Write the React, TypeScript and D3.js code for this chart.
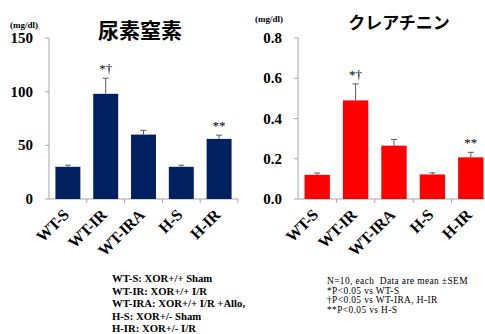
import React from "react";
import * as d3 from "d3";

const categories = ["WT-S", "WT-IR", "WT-IRA", "H-S", "H-IR"];
const bunValues = [30, 98, 60, 30, 56];
const bunErrors = [1.5, 14.5, 4, 1.5, 3.5];
const crValues = [0.12, 0.49, 0.265, 0.122, 0.207];
const crErrors = [0.009, 0.082, 0.031, 0.008, 0.025];
const bunTicks = [0, 50, 100, 150];
const crTicks = [0, 0.2, 0.4, 0.6, 0.8];
const bunMarks = ["", "*\u2020", "", "", "**"];
const crMarks = ["", "*\u2020", "", "", "**"];
const legendLeft = [
  "WT-S: XOR+/+ Sham",
  "WT-IR: XOR+/+ I/R",
  "WT-IRA: XOR+/+ I/R +Allo,",
  "H-S: XOR+/- Sham",
  "H-IR: XOR+/- I/R",
];
const legendRight = [
  "N=10, each  Data are mean \u00B1SEM",
  "*P<0.05 vs WT-S",
  "\u2020P<0.05 vs WT-IRA, H-IR",
  "**P<0.05 vs H-S",
];

const serif = "'Liberation Serif', 'Times New Roman', serif";
const cjk = "'Noto Sans CJK JP', sans-serif";

type PanelProps = {
  x0: number;
  x1: number;
  yTop: number;
  yBottom: number;
  max: number;
  ticks: number[];
  fmt: (v: number) => string;
  values: number[];
  errors: number[];
  marks: string[];
  color: string;
  title: string;
  titleX: number;
  titleY: number;
  titleSize: number;
  unitX: number;
  unitY: number;
  labelRight: number;
  markSize: number;
};

function Panel(p: PanelProps) {
  const x = d3.scaleBand<string>().domain(categories).range([p.x0, p.x1]).paddingInner(0.34).paddingOuter(0.17);
  const xb = d3.scaleBand<string>().domain(categories).range([p.x0, p.x1]);
  const y = d3.scaleLinear().domain([0, p.max]).range([p.yBottom, p.yTop]);
  const axisColor = "#a6a6a6";
  return (
    <g>
      <text x={p.titleX} y={p.titleY} fontFamily={cjk} fontWeight="bold" fontSize={p.titleSize} textAnchor="middle">
        {p.title}
      </text>
      <text x={p.unitX} y={p.unitY} fontFamily={serif} fontWeight="bold" fontSize={9}>
        (mg/dl)
      </text>
      <line x1={p.x0} x2={p.x0} y1={y(0)} y2={y(p.max)} stroke={axisColor} strokeWidth={1} />
      {p.ticks.map((t) => (
        <g key={t}>
          <line x1={p.x0 - 4} x2={p.x0} y1={y(t)} y2={y(t)} stroke={axisColor} />
          <text x={p.labelRight} y={y(t) + 5} textAnchor="end" fontFamily={serif} fontWeight="bold" fontSize={15}>
            {p.fmt(t)}
          </text>
        </g>
      ))}
      <line x1={p.x0} x2={p.x1} y1={y(0)} y2={y(0)} stroke={axisColor} />
      {categories.map((c) => (
        <line key={c} x1={(xb(c) as number) + xb.bandwidth()} x2={(xb(c) as number) + xb.bandwidth()} y1={y(0)} y2={y(0) + 4} stroke={axisColor} />
      ))}
      {categories.map((c, i) => {
        const bx = x(c) as number;
        const cx = bx + x.bandwidth() / 2;
        const top = y(p.values[i] + p.errors[i]);
        return (
          <g key={c}>
            <rect x={bx} y={y(p.values[i])} width={x.bandwidth()} height={y(0) - y(p.values[i])} fill={p.color} />
            <line x1={cx} x2={cx} y1={y(p.values[i])} y2={top} stroke="#595959" strokeWidth={1} />
            <line x1={cx - 3} x2={cx + 3} y1={top} y2={top} stroke="#595959" strokeWidth={1} />
            {p.marks[i] && (
              <text x={cx} y={top - 5} textAnchor="middle" fontFamily={serif} fontSize={p.markSize} fill="#000">
                {p.marks[i]}
              </text>
            )}
            <text
              transform={`translate(${cx + 2},${y(0) + 17}) rotate(-45)`}
              textAnchor="end"
              fontFamily={serif}
              fontWeight="bold"
              fontSize={16}
              letterSpacing={-0.3}
            >
              {c}
            </text>
          </g>
        );
      })}
    </g>
  );
}

export default function App() {
  return (
    <svg width={485} height={334} style={{ position: "absolute", left: 0, top: 0 }}>
      <rect width={485} height={334} fill="#fff" />
      <Panel
        x0={49}
        x1={238}
        yTop={38}
        yBottom={199}
        max={150}
        ticks={bunTicks}
        fmt={(v) => String(v)}
        values={bunValues}
        errors={bunErrors}
        marks={bunMarks}
        color="#002060"
        title="尿素窒素"
        titleX={140}
        titleY={38}
        titleSize={21}
        unitX={10}
        unitY={28}
        labelRight={33}
        markSize={13}
      />
      <Panel
        x0={298}
        x1={490}
        yTop={38}
        yBottom={199}
        max={0.8}
        ticks={crTicks}
        fmt={(v) => v.toFixed(1)}
        values={crValues}
        errors={crErrors}
        marks={crMarks}
        color="#ff0000"
        title="クレアチニン"
        titleX={399}
        titleY={29}
        titleSize={17}
        unitX={255}
        unitY={22}
        labelRight={282}
        markSize={13}
      />
      {legendLeft.map((t, i) => (
        <text key={t} x={112} y={282 + i * 12.6} fontFamily={serif} fontWeight="bold" fontSize={10.7}>
          {t}
        </text>
      ))}
      {legendRight.map((t, i) => (
        <text key={t} x={327} y={284 + i * 9.6} fontFamily={serif} fontSize={9.4} letterSpacing={0.4} style={{ whiteSpace: "pre" }}>
          {t}
        </text>
      ))}
    </svg>
  );
}
